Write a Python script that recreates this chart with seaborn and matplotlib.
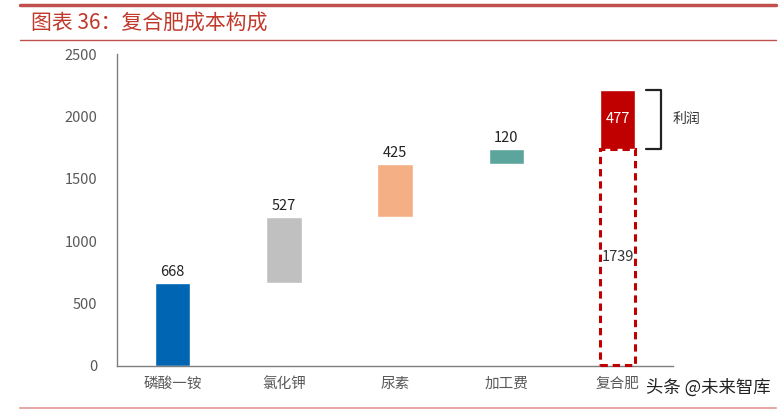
import numpy as np
import pandas as pd
import matplotlib
matplotlib.use("Agg")
import matplotlib.pyplot as plt
import seaborn as sns

### data
categories = ["磷酸一铵", "氯化钾", "尿素", "加工费", "复合肥"]
values = [668, 527, 425, 120, 477]
bases = [0, 668, 1195, 1620, 1739]
cost_total = 1739
colors = ["#0066B3", "#C0C0C0", "#F4AF85", "#5BA59C", "#C00000"]
yticks = [0, 500, 1000, 1500, 2000, 2500]

df = pd.DataFrame({"cat": categories, "value": values, "base": bases})

### style
sns.set_style("white")
plt.rcParams["font.family"] = ["Noto Sans CJK SC", "DejaVu Sans"]

fig = plt.figure(figsize=(7.8, 4.13), dpi=100)
ax = fig.add_axes([0.15, 0.114, 0.713, 0.755])

sns.barplot(data=df, x="cat", y="value", hue="cat", palette=colors,
            legend=False, width=0.32, saturation=1, ax=ax)

# shift each bar up onto its base (waterfall)
for patch, b, v in zip(ax.patches, df["base"], df["value"]):
    patch.set_y(b)
    patch.set_height(v)

# dashed outline bar for the total cost
last = ax.patches[-1]
ax.bar(4, cost_total - 10, width=last.get_width(), bottom=10, fill=False,
       edgecolor="#C00000", linestyle=(0, (2.4, 1.6)), linewidth=2.2,
       clip_on=False, zorder=5)

### value labels
for i, (b, v) in enumerate(zip(bases, values)):
    if i < 4:
        ax.text(i, b + v + 30, str(v), ha="center", va="bottom",
                fontsize=10.5, color="#222222")
    else:
        ax.text(i, b + v / 2, str(v), ha="center", va="center",
                fontsize=10.5, color="white")
ax.text(4, cost_total / 2, str(cost_total), ha="center", va="center",
        fontsize=10.5, color="#333333")

# profit bracket
top = bases[4] + values[4]
ax.plot([4.26, 4.39, 4.39, 4.26], [top, top, bases[4], bases[4]],
        color="#222222", lw=1.6, clip_on=False)
ax.text(4.62, (top + bases[4]) / 2, "利润", ha="center", va="center",
        fontsize=10, color="#333333")

### axes
ax.set_xlim(-0.5, 4.5)
ax.set_ylim(0, 2500)
ax.set_yticks(yticks)
ax.set_xlabel("")
ax.set_ylabel("")
ax.set_xticks(np.arange(-0.5, 5, 1), minor=False)
ax.set_xticklabels([])
ax.set_xticks(np.arange(5), minor=True)
ax.set_xticklabels(categories, minor=True, fontsize=10.5, color="#595959")
ax.tick_params(axis="x", which="major", direction="in", length=5,
               color="#7f7f7f", width=1)
ax.tick_params(axis="x", which="minor", length=0, pad=8)
ax.tick_params(axis="y", direction="in", length=5, color="#7f7f7f",
               labelsize=10.5, labelcolor="#595959", pad=14)
for s in ["top", "right"]:
    ax.spines[s].set_visible(False)
for s in ["left", "bottom"]:
    ax.spines[s].set_color("#7f7f7f")
    ax.spines[s].set_linewidth(1)

### title and frame lines
fig.add_artist(plt.Line2D([0.025, 0.995], [0.988, 0.988], color="#C0504D", lw=2.5))
fig.add_artist(plt.Line2D([0.025, 0.995], [0.903, 0.903], color="#C0504D", lw=1))
fig.add_artist(plt.Line2D([0.025, 0.995], [0.012, 0.012], color="#E6A9A7", lw=1.5))
fig.text(0.04, 0.945, "图表 36：复合肥成本构成", fontsize=15,
         color="#C0392B", va="center", ha="left")

# watermark
fig.text(0.988, 0.062, "头条 @未来智库", fontsize=12.5, color="#222222",
         ha="right", va="center")

fig.savefig("out.png", dpi=100)
